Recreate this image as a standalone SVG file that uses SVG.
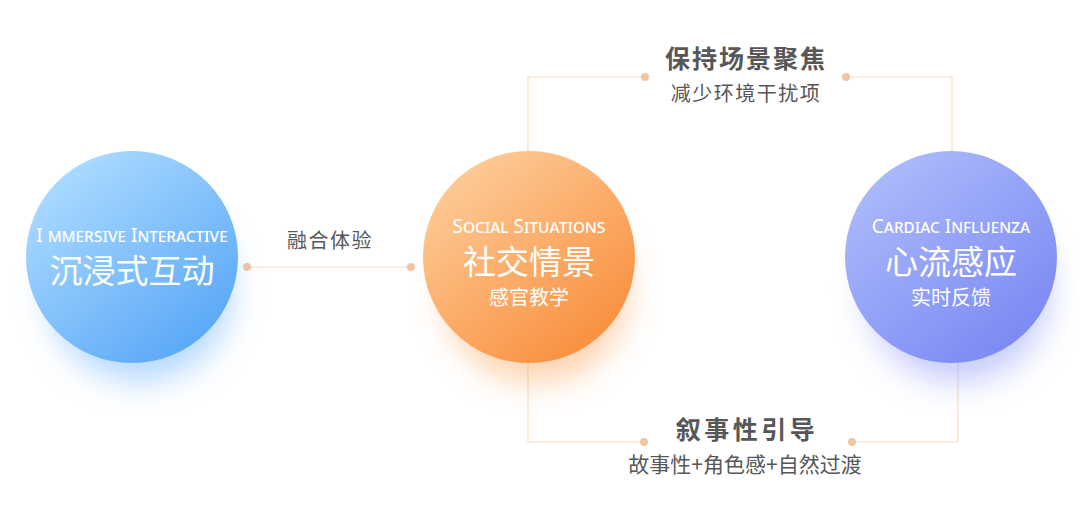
<svg xmlns="http://www.w3.org/2000/svg" width="1080" height="521" viewBox="0 0 1080 521">
<defs>
<style>
.en{font-family:"Noto Sans","Open Sans",sans-serif;font-variant:small-caps;fill:#fff;font-size:19px;text-anchor:middle}
.zh{font-family:"Noto Sans CJK SC",sans-serif;fill:#fff;text-anchor:middle}
.lbl{font-family:"Noto Sans CJK SC",sans-serif;fill:#575757;text-anchor:middle}
.ln{fill:none;stroke:#f5dcc5;stroke-width:1.2}
.dot{fill:#f2c4a2}
</style>
<linearGradient id="gBlue" x1="0.2" y1="0.1" x2="0.85" y2="0.9">
<stop offset="0" stop-color="#a9d9ff"/><stop offset="1" stop-color="#5aa8f7"/>
</linearGradient>
<linearGradient id="gOrange" x1="0.2" y1="0.1" x2="0.85" y2="0.9">
<stop offset="0" stop-color="#fdc994"/><stop offset="1" stop-color="#f98f3e"/>
</linearGradient>
<linearGradient id="gPurple" x1="0.2" y1="0.1" x2="0.85" y2="0.9">
<stop offset="0" stop-color="#aab8fb"/><stop offset="1" stop-color="#7b89f4"/>
</linearGradient>
<filter id="blur" x="-50%" y="-50%" width="200%" height="200%"><feGaussianBlur stdDeviation="16"/></filter>
</defs>
<rect width="1080" height="521" fill="#fff"/>
<g id="connectors">
<path class="ln" d="M247 267H411"/>
<circle class="dot" cx="247" cy="267" r="4"/><circle class="dot" cx="411" cy="267" r="4"/>
<path class="ln" d="M528 152V77H645"/>
<path class="ln" d="M846 77H952V152"/>
<circle class="dot" cx="645" cy="77" r="4"/><circle class="dot" cx="846" cy="77" r="4"/>
<path class="ln" d="M528 362V442H644"/>
<path class="ln" d="M852 442H958V362"/>
<circle class="dot" cx="644" cy="442" r="4"/><circle class="dot" cx="852" cy="442" r="4"/>
</g>
<g id="node-immersive">
<circle cx="140" cy="290" r="92" fill="#6db4fa" opacity="0.5" filter="url(#blur)"/>
<circle cx="132" cy="257" r="106" fill="url(#gBlue)"/>
<text class="en" x="132" y="242">I mmersive Interactive</text>
<text class="zh" x="132" y="283" font-size="33">沉浸式互动</text>
</g>
<g id="node-social">
<circle cx="536" cy="290" r="92" fill="#fba45c" opacity="0.5" filter="url(#blur)"/>
<circle cx="529" cy="257" r="106" fill="url(#gOrange)"/>
<text class="en" x="529" y="233">Social Situations</text>
<text class="zh" x="529" y="274" font-size="33">社交情景</text>
<text class="zh" x="529" y="305" font-size="20">感官教学</text>
</g>
<g id="node-cardiac">
<circle cx="958" cy="290" r="92" fill="#8d9af6" opacity="0.5" filter="url(#blur)"/>
<circle cx="951" cy="257" r="106" fill="url(#gPurple)"/>
<text class="en" x="951" y="233">Cardiac Influenza</text>
<text class="zh" x="951" y="274" font-size="33">心流感应</text>
<text class="zh" x="951" y="305" font-size="20">实时反馈</text>
</g>
<g id="label-fusion">
<text class="lbl" x="330" y="248" font-size="20" letter-spacing="1.5">融合体验</text>
</g>
<g id="label-focus">
<text class="lbl" x="746" y="68" font-size="25" font-weight="bold" letter-spacing="2">保持场景聚焦</text>
<text class="lbl" x="746" y="101" font-size="20" letter-spacing="1.5">减少环境干扰项</text>
</g>
<g id="label-narrative">
<text class="lbl" x="747" y="439" font-size="25" font-weight="bold" letter-spacing="3.5">叙事性引导</text>
<text class="lbl" x="745" y="472" font-size="21">故事性+角色感+自然过渡</text>
</g>
</svg>
